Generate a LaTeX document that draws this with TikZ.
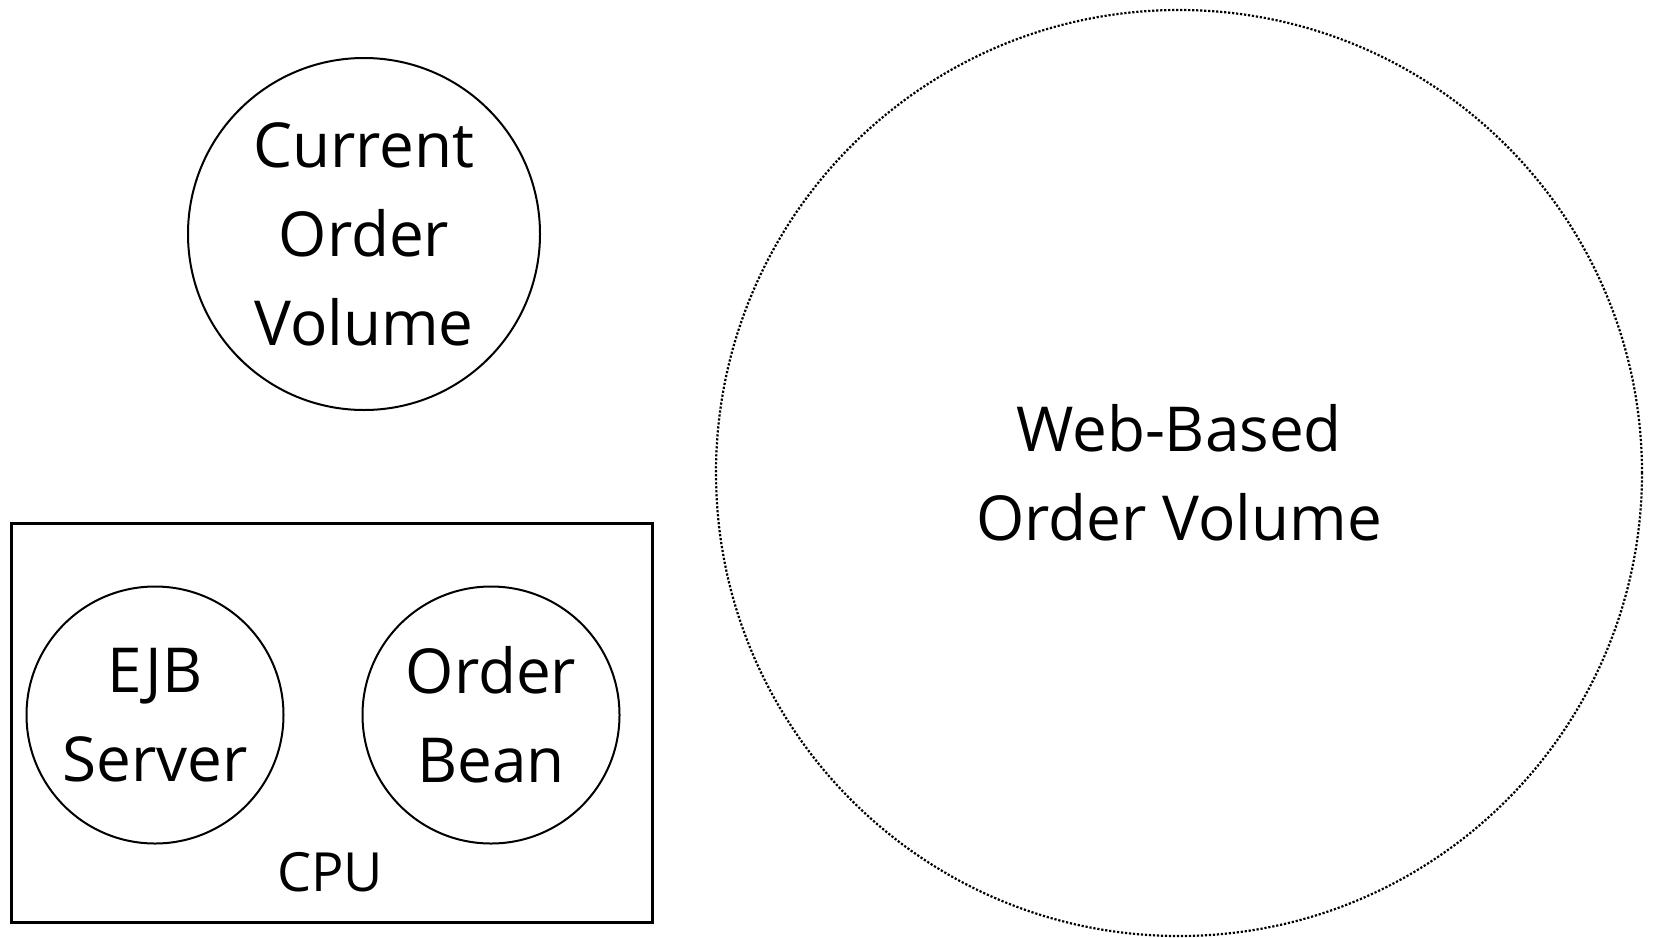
\documentclass[tikz,border=0pt]{standalone}
\usepackage{fontspec}
\setmainfont{Open Sans}
\begin{document}
\begin{tikzpicture}[x=1pt,y=-1pt,
  lbl/.style={font=\fontsize{62}{89}\selectfont, align=center},
  ring/.style={circle, draw, line width=2pt, inner sep=0pt, lbl}]
\useasboundingbox (0,0) rectangle (1653,937);
\node[ring, minimum size=352pt] (cur) at (364,234) {Current\\Order\\Volume};
\node[ring, minimum size=926pt, line width=2.2pt, dash pattern=on 2.2pt off 1.8pt] (web) at (1179,473) {Web-Based\\Order Volume};
\node[draw, rectangle, line width=3pt, minimum width=641pt, minimum height=399pt, inner sep=0pt] (cpubox) at (331.5,722.5) {};
\node[ring, minimum size=257pt] (ejb) at (155,715) {EJB\\Server};
\node[ring, minimum size=257pt] (bean) at (491,715) {Order\\Bean};
\node[font=\fontsize{54}{60}\selectfont] (cpu) at (330,872) {CPU};
\end{tikzpicture}
\end{document}
